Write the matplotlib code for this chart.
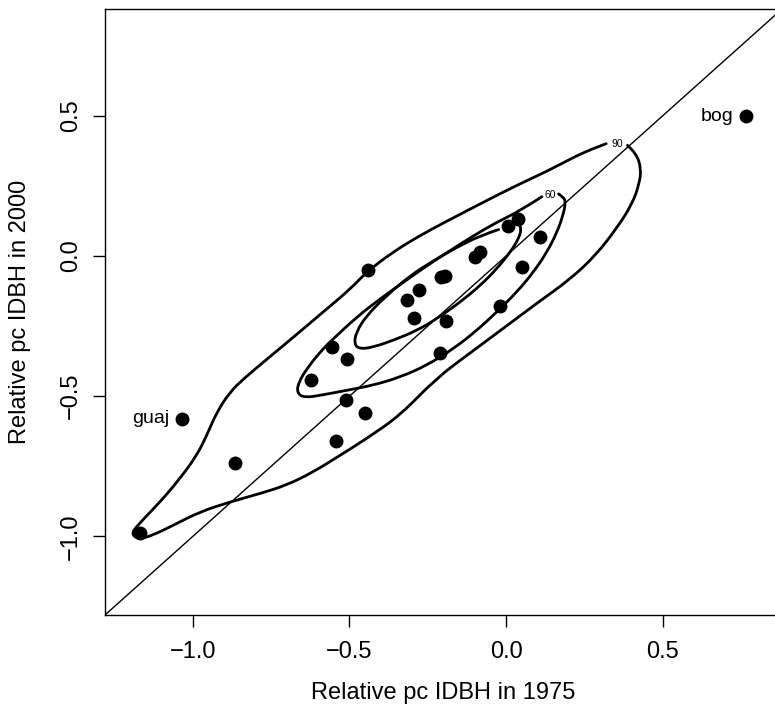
import matplotlib
matplotlib.use("Agg")
import matplotlib.pyplot as plt
from matplotlib.path import Path
from matplotlib.patches import PathPatch

plt.rcParams["font.family"] = ["Liberation Sans", "DejaVu Sans"]

# -- Data: relative pc IDBH, 1975 vs 2000 --------------------------------------
x1975 = [0.765, -1.034, -0.865, -1.169, -0.442, -0.556, -0.508, -0.622,
         -0.512, -0.451, -0.544, -0.317, -0.279, -0.293, -0.207, -0.196,
         -0.193, -0.210, -0.098, -0.084, 0.007, 0.037, 0.108, 0.051, -0.021]
y2000 = [0.497, -0.580, -0.739, -0.989, -0.049, -0.324, -0.366, -0.444,
         -0.514, -0.561, -0.659, -0.159, -0.123, -0.220, -0.077, -0.070,
         -0.232, -0.345, -0.003, 0.014, 0.106, 0.130, 0.066, -0.039, -0.180]

# named points: (label, index into the arrays)
named = [("bog", 0), ("guaj", 1)]

# density contours (90% and 60% labelled, inner one not)
c90_x = [0.387, 0.415, 0.431, 0.424, 0.401, 0.353, 0.284, 0.202, 0.106, -0.004,
         -0.114, -0.224, -0.338, -0.445, -0.530, -0.615, -0.700, -0.785, -0.881,
         -0.977, -1.062, -1.126, -1.172, -1.196, -1.178, -1.104, -1.041, -0.987,
         -0.955, -0.923, -0.881, -0.838, -0.746, -0.663, -0.581, -0.499, -0.444,
         -0.361, -0.279, -0.196, -0.087, 0.023, 0.133, 0.216, 0.271, 0.319]
c90_y = [0.394, 0.366, 0.310, 0.254, 0.183, 0.099, 0.000, -0.085, -0.162, -0.254,
         -0.345, -0.437, -0.568, -0.651, -0.711, -0.770, -0.817, -0.847, -0.877,
         -0.912, -0.960, -0.995, -1.010, -0.992, -0.962, -0.877, -0.794, -0.711,
         -0.639, -0.556, -0.485, -0.438, -0.352, -0.275, -0.197, -0.120, -0.056,
         0.014, 0.070, 0.120, 0.183, 0.246, 0.303, 0.352, 0.380, 0.400]

c60_x = [0.167, 0.183, 0.190, 0.181, 0.162, 0.130, 0.087, 0.034, -0.030, -0.094,
         -0.168, -0.253, -0.338, -0.424, -0.508, -0.583, -0.645, -0.668, -0.662,
         -0.636, -0.594, -0.556, -0.477, -0.402, -0.328, -0.253, -0.179, -0.104,
         -0.030, 0.045, 0.114]
c60_y = [0.221, 0.209, 0.191, 0.143, 0.084, 0.013, -0.058, -0.129, -0.200, -0.266,
         -0.331, -0.390, -0.432, -0.461, -0.479, -0.495, -0.506, -0.487, -0.450,
         -0.402, -0.343, -0.300, -0.218, -0.153, -0.094, -0.035, 0.019, 0.072,
         0.120, 0.161, 0.211]

c30_x = [-0.024, -0.083, -0.157, -0.232, -0.306, -0.381, -0.445, -0.479, -0.485,
         -0.466, -0.424, -0.360, -0.285, -0.221, -0.147, -0.083, -0.030, 0.013,
         0.039, 0.049, 0.039, 0.029]
c30_y = [0.094, 0.072, 0.031, -0.017, -0.070, -0.141, -0.212, -0.272, -0.316,
         -0.332, -0.325, -0.301, -0.266, -0.224, -0.165, -0.106, -0.046, 0.013,
         0.060, 0.096, 0.116, 0.120]

contour_labels = [("90", 0.354, 0.399), ("60", 0.140, 0.216)]

xticks = [-1.0, -0.5, 0.0, 0.5]
yticks = [-1.0, -0.5, 0.0, 0.5]


def smooth_path(xs, ys):
    """Quadratic B-spline style path: traced vertices act as control points."""
    pts = list(zip(xs, ys))
    verts = [pts[0]]
    codes = [Path.MOVETO]
    for i in range(1, len(pts) - 1):
        nxt = pts[i + 1] if i == len(pts) - 2 else (
            ((pts[i][0] + pts[i + 1][0]) / 2, (pts[i][1] + pts[i + 1][1]) / 2))
        verts += [pts[i], nxt]
        codes += [Path.CURVE3, Path.CURVE3]
    return Path(verts, codes)


# -- Plot ----------------------------------------------------------------------
fig = plt.figure(figsize=(7.75, 7.10), dpi=100)
ax = fig.add_axes([105 / 775, 95 / 710, 677 / 775, 606 / 710])
ax.set_xlim(-1.28, 0.88)
ax.set_ylim(-1.28, 0.88)

# identity line
ax.plot([-1.28, 0.88], [-1.28, 0.88], color="black", lw=1.0, zorder=1)

for cx, cy in [(c90_x, c90_y), (c60_x, c60_y), (c30_x, c30_y)]:
    ax.add_patch(PathPatch(smooth_path(cx, cy), facecolor="none",
                           edgecolor="black", lw=2.0, joinstyle="round",
                           capstyle="round", zorder=2))

for lab, lx, ly in contour_labels:
    ax.text(lx, ly, lab, fontsize=7.5, ha="center", va="center", zorder=3)

ax.plot(x1975, y2000, "o", color="black", ms=9, zorder=4)

for lab, i in named:
    ax.annotate(lab, (x1975[i], y2000[i]), xytext=(-9, 0),
                textcoords="offset points", ha="right", va="center",
                fontsize=14)

ax.set_xticks(xticks)
ax.set_xticklabels([f"{v:.1f}".replace("-", "\u2212") for v in xticks])
ax.set_yticks(yticks)
ax.set_yticklabels([f"{v:.1f}".replace("-", "\u2212") for v in yticks],
                   rotation=90, va="center")
ax.tick_params(axis="both", length=8.5, width=1.0, labelsize=17)
ax.tick_params(axis="x", pad=10)
ax.tick_params(axis="y", pad=8)

for s in ["left", "bottom", "top", "right"]:
    ax.spines[s].set_linewidth(1.0)

ax.set_xlabel("Relative pc IDBH in 1975", fontsize=17)
ax.set_ylabel("Relative pc IDBH in 2000", fontsize=17)
ax.xaxis.set_label_coords(0.5, -0.129)
ax.xaxis.label.set_va("center")
ax.yaxis.set_label_coords(-0.1256, 0.5)
ax.yaxis.label.set_va("center")

fig.savefig("out.png", dpi=100)
